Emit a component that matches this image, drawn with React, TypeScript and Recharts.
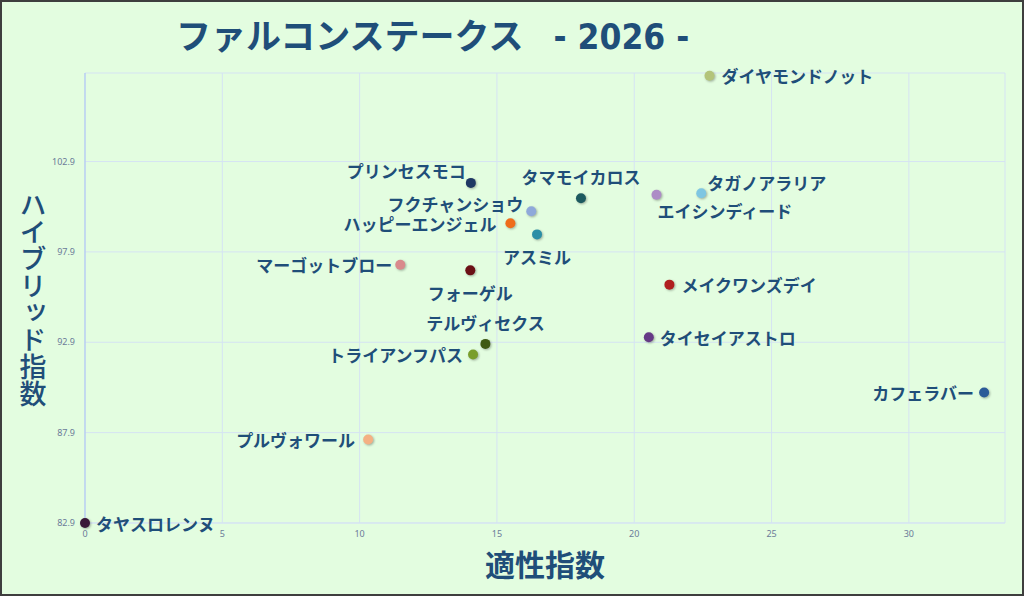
import { ScatterChart, Scatter, XAxis, YAxis, CartesianGrid } from "recharts";

// Horse names, aptitude index (x) and hybrid index (y).
const HORSES = [
  "ダイヤモンドノット",
  "プリンセスモコ",
  "タマモイカロス",
  "タガノアラリア",
  "エイシンディード",
  "フクチャンショウ",
  "ハッピーエンジェル",
  "アスミル",
  "マーゴットブロー",
  "フォーゲル",
  "メイクワンズデイ",
  "テルヴィセクス",
  "トライアンフパス",
  "タイセイアストロ",
  "カフェラバー",
  "プルヴォワール",
  "タヤスロレンヌ",
];
const APTITUDE = [
  22.74, 14.05, 18.06, 22.44, 20.81, 16.25, 15.49, 16.46, 11.48, 14.03, 21.28,
  14.58, 14.13, 20.53, 32.74, 10.31, 0,
];
const HYBRID = [
  107.65, 101.72, 100.87, 101.15, 101.06, 100.15, 99.49, 98.87, 97.19, 96.88,
  96.09, 92.81, 92.22, 93.18, 90.12, 87.52, 82.9,
];
const X_TICKS = [0, 5, 10, 15, 20, 25, 30];
const Y_TICKS = [82.9, 87.9, 92.9, 97.9, 102.9];

const TITLE = "ファルコンステークス";
const TITLE_YEAR = "- 2026 -";
const X_LABEL = "適性指数";
const Y_LABEL = "ハイブリッド指数";

// Theme
const INK = "#1f4e79";
const BG = "#e3fde0";
const GRID = "#d5e3f3";
const TICK = { fill: "#6b7b99", fontSize: 9, fontFamily: "Noto Sans" } as const;
const JP = '"Noto Sans CJK JP", "Noto Sans", sans-serif';

const DOT_COLORS: Record<string, string> = {
  ダイヤモンドノット: "#b3c47a",
  プリンセスモコ: "#1f3864",
  タマモイカロス: "#1d5a60",
  タガノアラリア: "#7ec6e2",
  エイシンディード: "#ad8cc6",
  フクチャンショウ: "#8fa9da",
  ハッピーエンジェル: "#ef6c1c",
  アスミル: "#2b8ea6",
  マーゴットブロー: "#d98a8c",
  フォーゲル: "#6b1016",
  メイクワンズデイ: "#b01f1f",
  テルヴィセクス: "#3f5a14",
  トライアンフパス: "#7a9e2c",
  タイセイアストロ: "#663a86",
  カフェラバー: "#2b5a98",
  プルヴォワール: "#f4b183",
  タヤスロレンヌ: "#3a1838",
};

// Label placement relative to the dot: [dx, dy, anchor]
const LABEL_PLACE: Record<string, [number, number, "start" | "middle" | "end"]> = {
  ダイヤモンドノット: [12, 0, "start"],
  プリンセスモコ: [-5, -12, "end"],
  タマモイカロス: [0, -22, "middle"],
  タガノアラリア: [6, -11, "start"],
  エイシンディード: [1, 16, "start"],
  フクチャンショウ: [-8, -8, "end"],
  ハッピーエンジェル: [-14, 0, "end"],
  アスミル: [0, 22, "middle"],
  マーゴットブロー: [-8, 0, "end"],
  フォーゲル: [0, 22, "middle"],
  メイクワンズデイ: [12, 0, "start"],
  テルヴィセクス: [0, -21, "middle"],
  トライアンフパス: [-10, 0, "end"],
  タイセイアストロ: [11, 0, "start"],
  カフェラバー: [-10, 0, "end"],
  プルヴォワール: [-13, 0, "end"],
  タヤスロレンヌ: [11, 0, "start"],
};

const points = HORSES.map((name, i) => ({ name, x: APTITUDE[i], y: HYBRID[i] }));

function HorseDot(props: any) {
  const { cx, cy, payload } = props;
  const [dx, dy, anchor] = LABEL_PLACE[payload.name] ?? [10, 0, "start"];
  return (
    <g>
      <circle
        cx={cx}
        cy={cy}
        r={5}
        fill={DOT_COLORS[payload.name]}
        style={{ filter: "drop-shadow(1px 1.5px 1px rgba(0,0,0,0.3))" }}
      />
      <text
        x={cx + dx}
        y={cy + dy}
        textAnchor={anchor}
        dominantBaseline="central"
        fontSize={17}
        fontWeight={700}
        fontFamily={JP}
        fill={INK}
      >
        {payload.name}
      </text>
    </g>
  );
}

function XTitle(props: any) {
  const { x, y, width } = props.viewBox;
  return (
    <text
      x={x + width / 2}
      y={y + 40}
      textAnchor="middle"
      dominantBaseline="central"
      fontSize={30}
      fontWeight={700}
      fontFamily={JP}
      fill={INK}
    >
      {X_LABEL}
    </text>
  );
}

// Upright vertical writing, one text element.
function YTitle() {
  return (
    <text
      x={33}
      y={191}
      fontSize={27}
      fontWeight={500}
      fontFamily={JP}
      fill={INK}
      style={{ writingMode: "vertical-rl" }}
    >
      {Y_LABEL}
    </text>
  );
}

export default function App() {
  return (
    <div style={{ position: "relative", width: 1024, height: 596, background: BG }}>
      <style>{"body{margin:0}"}</style>
      <div
        style={{
          position: "absolute",
          left: 176,
          top: 12,
          color: INK,
          fontFamily: JP,
          fontWeight: 700,
          fontSize: 35,
          lineHeight: "44px",
          whiteSpace: "pre",
        }}
      >
        {TITLE}
        <span style={{ fontFamily: '"DejaVu Sans Condensed", "DejaVu Sans"', marginLeft: 30 }}>
          {TITLE_YEAR}
        </span>
      </div>
      <ScatterChart
        width={1024}
        height={596}
        margin={{ top: 73, right: 19, bottom: 43, left: 0 }}
        style={{ position: "absolute", left: 0, top: 0 }}
      >
        <CartesianGrid stroke={GRID} strokeWidth={1} />
        <XAxis
          type="number"
          dataKey="x"
          domain={[0, 33.5]}
          ticks={X_TICKS}
          height={30}
          tick={TICK}
          tickLine={false}
          tickSize={0}
          tickMargin={8}
          axisLine={{ stroke: GRID }}
          label={<XTitle />}
        />
        <YAxis
          type="number"
          dataKey="y"
          domain={[82.9, 107.8]}
          ticks={Y_TICKS}
          width={85}
          tick={TICK}
          tickLine={false}
          tickSize={0}
          tickMargin={10}
          tickFormatter={(v: number) => v.toFixed(1)}
          axisLine={{ stroke: "#a9c3f2" }}
          label={<YTitle />}
        />
        <Scatter data={points} shape={<HorseDot />} isAnimationActive={false} />
      </ScatterChart>
      <div
        style={{
          position: "absolute",
          inset: 0,
          border: "2px solid #3e3e3e",
          pointerEvents: "none",
        }}
      />
    </div>
  );
}
